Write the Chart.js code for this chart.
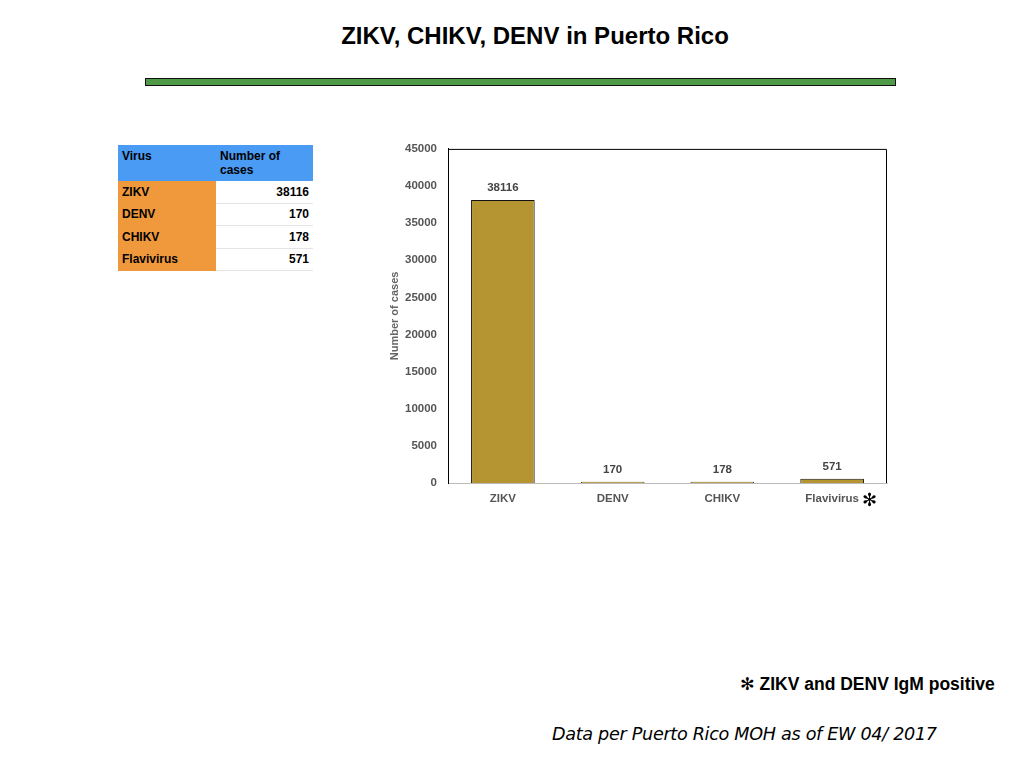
<!DOCTYPE html>
<html>
<head>
<meta charset="utf-8">
<script src="https://cdn.jsdelivr.net/npm/chart.js@4"></script>
<style>
    body { margin: 0; width: 1024px; height: 768px; background: #fff; position: relative; overflow: hidden; font-family: "Liberation Sans", Arial, sans-serif; }
    #title { position: absolute; top: 22px; left: 0; width: 1070px; text-align: center; font-size: 24px; font-weight: bold; color: #000; }
    #rule { position: absolute; left: 145px; top: 78px; width: 749px; height: 6px; background: #4f9a47; border: 1px solid #111; }
    #cases-table { position: absolute; left: 118px; top: 145px; border-collapse: collapse; font-size: 12px; font-weight: bold; }
    #cases-table td { padding: 0 4px; height: 21.5px; border-bottom: 1px solid #e4e4e4; }
    #cases-table tr.head td { background: #4a9bf4; height: 31px; vertical-align: top; padding-top: 4px; line-height: 14px; border-bottom: 1px solid #4a9bf4; }
    #cases-table td.name { background: #f0993c; width: 90px; border-bottom: 1px solid #f0993c; }
    #cases-table td.num { width: 89px; text-align: right; background: #fff; }
    #chart-box { position: absolute; left: 380px; top: 131px; width: 520px; height: 389px; }
    #note { position: absolute; left: 740px; top: 674px; font-size: 17.5px; font-weight: bold; }
    #source { position: absolute; left: 552px; top: 724px; font-size: 17.6px; font-style: italic; font-family: "DejaVu Sans", sans-serif; letter-spacing: -0.3px; }
</style>
</head>
<body>
<div id="title">ZIKV, CHIKV, DENV in Puerto Rico</div>
<div id="rule"></div>
<table id="cases-table"></table>
<div id="chart-box"><canvas id="cases-chart"></canvas></div>
<div id="note"><span style="font-family:'DejaVu Sans'">✻</span> ZIKV and DENV IgM positive</div>
<div id="source">Data per Puerto Rico MOH as of EW 04/ 2017</div>

<script>
const viruses = ['ZIKV', 'DENV', 'CHIKV', 'Flavivirus'];
const caseCounts = [38116, 170, 178, 571];
const yTicks = [0, 5000, 10000, 15000, 20000, 25000, 30000, 35000, 40000, 45000];

// table on the left
const table = document.getElementById('cases-table');
table.innerHTML = '<tr class="head"><td class="name" style="background:#4a9bf4;border-bottom-color:#4a9bf4">Virus</td><td style="width:89px">Number of<br>cases</td></tr>' +
    viruses.map((v, i) => `<tr><td class="name">${v}</td><td class="num">${caseCounts[i]}</td></tr>`).join('');

const labelFont = 'bold 11.5px "Liberation Sans", Arial';

const valueLabels = {
    id: 'valueLabels',
    afterDatasetsDraw(chart) {
        const ctx = chart.ctx;
        const meta = chart.getDatasetMeta(0);
        ctx.save();
        ctx.font = labelFont;
        ctx.fillStyle = '#444';
        ctx.textAlign = 'center';
        ctx.textBaseline = 'bottom';
        meta.data.forEach((bar, i) => {
            ctx.fillText(caseCounts[i], bar.x, bar.y - 6);
        });
        ctx.restore();
    }
};

const frame = {
    id: 'frame',
    afterDraw(chart) {
        const { ctx, chartArea: a } = chart;
        ctx.save();
        ctx.strokeStyle = '#000';
        ctx.lineWidth = 1;
        ctx.beginPath();
        ctx.moveTo(a.left + 0.5, a.bottom);
        ctx.lineTo(a.left + 0.5, a.top + 0.5);
        ctx.lineTo(a.right - 0.5, a.top + 0.5);
        ctx.lineTo(a.right - 0.5, a.bottom);
        ctx.stroke();
        // asterisk after the last category label
        const x = chart.scales.x;
        const px = x.getPixelForValue(viruses.length - 1);
        ctx.font = labelFont;
        const w = ctx.measureText(viruses[viruses.length - 1]).width;
        ctx.font = '18px "DejaVu Sans"';
        ctx.fillStyle = '#000';
        ctx.textBaseline = 'middle';
        ctx.fillText('✻', px + w / 2 + 3, x.top + 18);
        ctx.restore();
    }
};

const tickFont = { size: 11.5, weight: 'bold', family: '"Liberation Sans", Arial' };

new Chart(document.getElementById('cases-chart').getContext('2d'), {
    type: 'bar',
    data: {
        labels: viruses,
        datasets: [{
            data: caseCounts,
            backgroundColor: '#b59432',
            borderColor: '#111',
            borderWidth: 1,
            categoryPercentage: 1,
            barPercentage: 0.58
        }]
    },
    options: {
        responsive: true,
        maintainAspectRatio: false,
        animation: false,
        layout: { padding: { top: 2, right: 13, left: 8, bottom: 0 } },
        plugins: { legend: { display: false }, tooltip: { enabled: false } },
        scales: {
            x: {
                grid: { display: false, drawTicks: false },
                border: { color: '#bbb' },
                ticks: { color: '#555', font: tickFont, padding: 9 },
                afterFit: s => { s.height = 37; }
            },
            y: {
                min: 0,
                max: 45000,
                afterBuildTicks: s => { s.ticks = yTicks.map(v => ({ value: v })); },
                grid: { display: false, drawTicks: false },
                border: { color: '#000' },
                ticks: { color: '#555', font: tickFont, padding: 11, callback: v => String(v) },
                title: { display: true, text: 'Number of cases', color: '#666', font: { size: 11, weight: 'bold', family: '"Liberation Sans", Arial' }, padding: 0 },
                afterFit: s => { s.width = 60; }
            }
        }
    },
    plugins: [valueLabels, frame]
});
</script>
</body>
</html>
